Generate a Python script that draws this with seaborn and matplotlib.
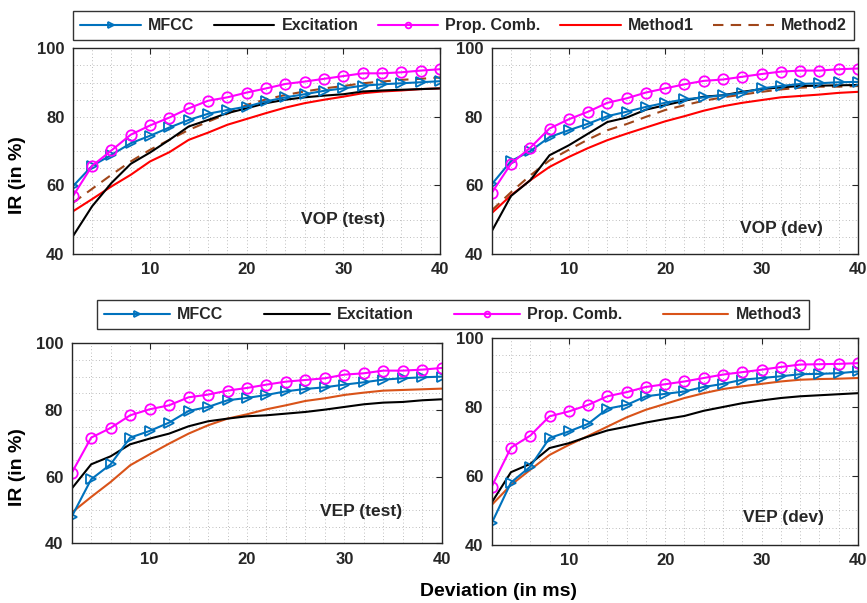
import matplotlib
matplotlib.use("Agg")
import matplotlib.pyplot as plt
from matplotlib.ticker import MultipleLocator, FixedLocator
import pandas as pd
import seaborn as sns

# Deviation values (ms) at which identification rate was measured
deviation = [2, 4, 6, 8, 10, 12, 14, 16, 18, 20, 22, 24, 26, 28, 30, 32, 34, 36, 38, 40]

# ---- VOP (test) ----
vop_test_mfcc = [59.7, 65.7, 68.9, 72.3, 74.5, 76.9, 79.1, 80.9, 82.0, 83.0,
                 84.5, 85.7, 86.6, 87.6, 88.3, 89.1, 89.5, 89.8, 90.1, 90.4]
vop_test_exc = [45.1, 53.9, 60.7, 66.3, 69.6, 73.3, 77.2, 79.1, 81.1, 82.5,
                84.0, 85.0, 85.7, 86.2, 86.6, 87.4, 87.7, 87.9, 88.1, 88.3]
vop_test_comb = [56.8, 65.7, 70.2, 74.8, 77.5, 79.8, 82.5, 84.7, 85.7, 87.1,
                 88.3, 89.6, 90.3, 91.1, 91.9, 92.7, 92.7, 93.0, 93.5, 93.9]
vop_test_m1 = [52.4, 56.0, 59.7, 63.1, 67.0, 69.7, 73.3, 75.4, 77.7, 79.4,
               81.1, 82.7, 84.0, 85.0, 85.9, 86.9, 87.4, 87.7, 88.1, 88.3]
vop_test_m2 = [54.9, 59.0, 63.1, 67.0, 70.4, 73.3, 76.2, 78.6, 80.9, 83.5,
               85.1, 86.4, 87.4, 88.3, 89.0, 89.8, 90.3, 90.8, 91.1, 91.5]

# ---- VOP (dev) ----
vop_dev_mfcc = [60.3, 67.1, 70.0, 74.1, 76.1, 78.0, 80.2, 81.5, 82.9, 84.1,
                85.1, 85.7, 86.3, 87.0, 88.3, 89.0, 89.6, 89.8, 90.1, 90.2]
vop_dev_exc = [46.6, 56.9, 61.5, 68.8, 71.7, 75.1, 78.5, 79.8, 82.1, 83.4,
               84.7, 85.9, 86.3, 87.3, 88.1, 88.6, 89.0, 89.1, 89.2, 89.3]
vop_dev_comb = [57.8, 66.3, 71.0, 76.6, 79.3, 81.5, 84.1, 85.4, 87.1, 88.3,
                89.5, 90.5, 90.9, 91.7, 92.5, 93.2, 93.5, 93.5, 93.9, 94.1]
vop_dev_m1 = [51.9, 57.1, 61.5, 65.4, 68.3, 70.9, 73.2, 75.1, 76.9, 78.7,
              80.2, 81.8, 83.1, 84.1, 84.9, 85.7, 86.1, 86.5, 87.0, 87.3]
vop_dev_m2 = [52.7, 58.0, 62.9, 67.3, 70.4, 73.4, 76.1, 77.9, 80.0, 82.0,
              83.4, 84.7, 85.7, 86.5, 87.3, 88.0, 88.5, 88.8, 88.8, 89.0]

# ---- VEP (test) ----
vep_test_mfcc = [48.0, 59.2, 63.7, 71.7, 73.7, 76.2, 79.7, 80.9, 82.9, 83.6,
                 84.5, 85.6, 86.3, 86.8, 87.6, 88.3, 89.1, 89.5, 89.8, 90.0]
vep_test_exc = [56.4, 63.7, 66.1, 69.7, 71.4, 72.9, 75.1, 76.6, 77.4, 78.1,
                78.4, 78.9, 79.4, 80.1, 80.9, 81.7, 82.2, 82.4, 82.9, 83.2]
vep_test_comb = [61.1, 71.7, 74.6, 78.4, 80.2, 81.4, 83.8, 84.6, 85.8, 86.6,
                 87.6, 88.5, 89.0, 89.5, 90.6, 91.0, 91.8, 91.8, 92.1, 92.6]
vep_test_m3 = [49.2, 53.9, 58.4, 63.4, 66.7, 69.9, 72.9, 75.4, 77.4, 78.7,
               80.2, 81.4, 82.7, 83.5, 84.5, 85.2, 85.8, 86.0, 86.2, 86.4]

# ---- VEP (dev) ----
vep_dev_mfcc = [46.3, 58.1, 62.7, 71.0, 72.9, 75.1, 79.5, 80.6, 83.1, 83.8,
                84.5, 85.8, 86.7, 87.9, 88.4, 88.9, 89.5, 89.6, 89.8, 90.3]
vep_dev_exc = [52.3, 61.1, 63.5, 68.1, 69.5, 71.4, 73.2, 74.3, 75.5, 76.5,
               77.4, 78.9, 80.0, 81.1, 81.9, 82.6, 83.1, 83.4, 83.7, 84.0]
vep_dev_comb = [56.9, 68.2, 71.7, 77.3, 78.7, 80.6, 83.1, 84.3, 85.8, 86.6,
                87.4, 88.4, 89.4, 90.1, 90.8, 91.6, 92.3, 92.4, 92.5, 92.7]
vep_dev_m3 = [51.6, 57.4, 61.8, 66.1, 69.0, 71.6, 74.3, 77.0, 79.2, 80.9,
              82.6, 84.0, 85.2, 86.0, 86.7, 87.4, 87.9, 88.1, 88.2, 88.4]

panel_titles = ["VOP (test)", "VOP (dev)", "VEP (test)", "VEP (dev)"]
x_ticks = [10, 20, 30, 40]
y_ticks = [40, 60, 80, 100]

sns.set_theme(style="white")
plt.rcParams["font.family"] = ["Liberation Sans", "DejaVu Sans"]
plt.rcParams["font.weight"] = "bold"

TXT = "#262626"
styles = {
    "MFCC": dict(color="#0072BD", marker=">", markersize=7.5, markerfacecolor="none",
                 markeredgecolor="#0072BD", markeredgewidth=1.3),
    "Excitation": dict(color="black"),
    "Prop. Comb.": dict(color="#FF00FF", marker="o", markersize=7.5, markerfacecolor="none",
                        markeredgecolor="#FF00FF", markeredgewidth=1.3),
    "Method1": dict(color="#FF0000"),
    "Method2": dict(color="#A0461A", linestyle=(0, (5, 3.5))),
    "Method3": dict(color="#D95319"),
}

fig = plt.figure(figsize=(8.67, 6.03), dpi=100)
positions = [
    [0.0839, 0.5788, 0.4237, 0.3411],
    [0.5671, 0.5788, 0.4225, 0.3411],
    [0.0827, 0.0990, 0.4268, 0.3317],
    [0.5671, 0.0962, 0.4225, 0.3433],
]
panels = [
    {"MFCC": vop_test_mfcc, "Excitation": vop_test_exc, "Prop. Comb.": vop_test_comb,
     "Method1": vop_test_m1, "Method2": vop_test_m2},
    {"MFCC": vop_dev_mfcc, "Excitation": vop_dev_exc, "Prop. Comb.": vop_dev_comb,
     "Method1": vop_dev_m1, "Method2": vop_dev_m2},
    {"MFCC": vep_test_mfcc, "Excitation": vep_test_exc, "Prop. Comb.": vep_test_comb,
     "Method3": vep_test_m3},
    {"MFCC": vep_dev_mfcc, "Excitation": vep_dev_exc, "Prop. Comb.": vep_dev_comb,
     "Method3": vep_dev_m3},
]
# Draw order: plain curves underneath, marked curves on top
draw_order = ["Method1", "Method2", "Method3", "Excitation", "MFCC", "Prop. Comb."]
title_pos = [(30.0, 50.0), (32.1, 47.5), (31.7, 49.6), (32.3, 48.1)]

axes = []
for pos, series, title, tpos in zip(positions, panels, panel_titles, title_pos):
    ax = fig.add_axes(pos)
    axes.append(ax)
    for name in draw_order:
        if name not in series:
            continue
        df = pd.DataFrame({"deviation": deviation, "ir": series[name]})
        sns.lineplot(data=df, x="deviation", y="ir", ax=ax, label=name,
                     linewidth=1.5, legend=False, **styles[name])
    ax.set_xlim(2, 40)
    ax.set_ylim(40, 100)
    ax.xaxis.set_major_locator(FixedLocator(x_ticks))
    ax.yaxis.set_major_locator(FixedLocator(y_ticks))
    ax.xaxis.set_minor_locator(MultipleLocator(2))
    ax.yaxis.set_minor_locator(MultipleLocator(5))
    ax.grid(which="both", linestyle=(0, (1, 3)), color="#a8a8a8", linewidth=0.6)
    ax.tick_params(which="major", direction="in", length=4, width=0.8,
                   top=True, right=True, colors=TXT, labelsize=12, pad=6)
    ax.tick_params(which="minor", length=0)
    for lbl in ax.get_xticklabels() + ax.get_yticklabels():
        lbl.set_fontweight("bold")
    for sp in ax.spines.values():
        sp.set_color(TXT)
        sp.set_linewidth(1.0)
    ax.set_xlabel("")
    ax.set_ylabel("")
    ax.text(tpos[0], tpos[1], title, ha="center", va="center",
            fontsize=12.5, fontweight="bold", color=TXT)


def legend_for(ax, order, anchor, handlelength, columnspacing):
    hmap = {h.get_label(): h for h in ax.get_lines()}
    handles = [hmap[n] for n in order]
    leg = fig.legend(handles, order, loc="upper center", bbox_to_anchor=anchor,
                     ncol=len(order), frameon=True, fancybox=False,
                     prop={"weight": "bold", "size": 11.5}, markerscale=0.55,
                     handlelength=handlelength, handletextpad=0.45,
                     columnspacing=columnspacing, borderpad=0.45)
    leg.get_frame().set_edgecolor("black")
    leg.get_frame().set_linewidth(1.0)
    return leg


legend_for(axes[0], ["MFCC", "Excitation", "Prop. Comb.", "Method1", "Method2"],
           (0.5346, 0.995), 3.8, 1.2)
legend_for(axes[2], ["MFCC", "Excitation", "Prop. Comb.", "Method3"],
           (0.5225, 0.5158), 4.1, 2.55)

fig.text(18 / 867, 1 - 175 / 603, "IR (in %)", rotation=90, ha="center", va="center",
         fontsize=14, fontweight="bold", color="black")
fig.text(18 / 867, 1 - 467 / 603, "IR (in %)", rotation=90, ha="center", va="center",
         fontsize=14, fontweight="bold", color="black")
fig.text(499 / 867, 1 - 592 / 603, "Deviation (in ms)", ha="center", va="center",
         fontsize=14, fontweight="bold", color="black")

fig.savefig("out.png", dpi=100)
